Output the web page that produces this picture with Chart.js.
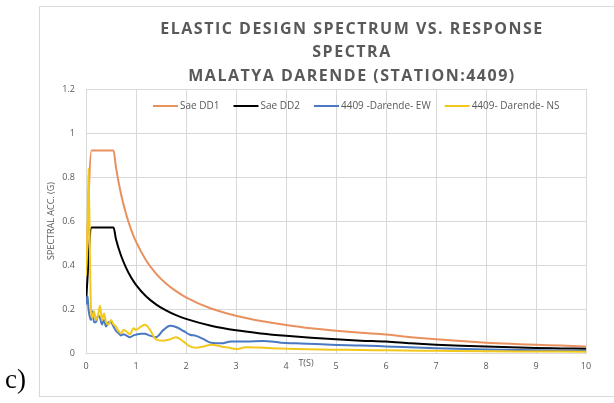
<!DOCTYPE html>
<html>
<head>
<meta charset="utf-8">
<script src="https://cdn.jsdelivr.net/npm/chart.js@4.4.1/dist/chart.umd.min.js"></script>
<style>
  html, body { margin: 0; padding: 0; background: #fff; overflow: hidden; }
  #wrap { position: relative; width: 614px; height: 403px; }
  #frame { position: absolute; left: 39px; top: 6px; width: 640px; height: 389px; border: 1px solid #d9d9d9; }
  #cv { position: absolute; left: 0; top: 0; }
  #tag { position: absolute; left: 5px; top: 366px; font-family: "Liberation Serif", serif; font-size: 27px; color: #000; line-height: 1; }
</style>
</head>
<body>
<div id="wrap">
  <div id="frame"></div>
  <canvas id="cv" width="614" height="403"></canvas>
  <div id="tag">c)</div>
</div>
<script>
// design spectra (TBDY 2018)
var periodsDesign = [0, 0.11, 0.2, 0.3, 0.4, 0.55, 0.6, 0.7, 0.8, 0.9, 1.0, 1.2, 1.4, 1.6, 1.8, 2.0, 2.5, 3, 3.5, 4, 4.5, 5, 5.5, 6, 6.5, 7, 7.5, 8, 8.5, 9, 9.5, 10];
var saeDD1 = [0.37, 0.92, 0.92, 0.92, 0.92, 0.92, 0.843, 0.723, 0.633, 0.562, 0.506, 0.422, 0.361, 0.316, 0.281, 0.253, 0.202, 0.169, 0.145, 0.127, 0.112, 0.101, 0.092, 0.084, 0.072, 0.062, 0.054, 0.047, 0.042, 0.037, 0.034, 0.029];
var saeDD2 = [0.23, 0.57, 0.57, 0.57, 0.57, 0.57, 0.517, 0.443, 0.388, 0.344, 0.31, 0.258, 0.221, 0.194, 0.172, 0.155, 0.124, 0.103, 0.089, 0.078, 0.069, 0.062, 0.056, 0.052, 0.044, 0.038, 0.033, 0.029, 0.026, 0.023, 0.021, 0.019];

// recorded response spectra, station 4409
var periodsRecord = [0, 0.03, 0.05, 0.08, 0.1, 0.13, 0.16, 0.2, 0.24, 0.28, 0.32, 0.36, 0.4, 0.45, 0.5, 0.55, 0.6, 0.65, 0.7, 0.75, 0.8, 0.88, 0.95, 1.0, 1.1, 1.18, 1.28, 1.4, 1.55, 1.68, 1.8, 1.95, 2.08, 2.2, 2.35, 2.5, 2.7, 2.9, 3.0, 3.2, 3.55, 3.9, 4.2, 4.9, 5.5, 6, 7, 8, 9, 10];
var ewValues = [0.22, 0.26, 0.2, 0.16, 0.15, 0.19, 0.14, 0.14, 0.17, 0.16, 0.13, 0.15, 0.12, 0.14, 0.14, 0.12, 0.1, 0.09, 0.08, 0.085, 0.08, 0.072, 0.08, 0.083, 0.088, 0.087, 0.079, 0.072, 0.105, 0.124, 0.118, 0.1, 0.083, 0.078, 0.063, 0.047, 0.044, 0.052, 0.052, 0.052, 0.055, 0.047, 0.044, 0.037, 0.034, 0.03, 0.022, 0.016, 0.012, 0.01];
var nsValues = [0.35, 0.55, 0.84, 0.42, 0.2, 0.16, 0.19, 0.15, 0.17, 0.215, 0.15, 0.18, 0.14, 0.13, 0.15, 0.13, 0.12, 0.1, 0.09, 0.105, 0.1, 0.085, 0.113, 0.105, 0.12, 0.128, 0.105, 0.062, 0.056, 0.062, 0.072, 0.052, 0.03, 0.024, 0.03, 0.037, 0.03, 0.022, 0.018, 0.026, 0.024, 0.02, 0.018, 0.015, 0.014, 0.012, 0.01, 0.008, 0.007, 0.006];

var seriesNames = ["Sae DD1", "Sae DD2", "4409 -Darende- EW", "4409- Darende- NS"];
var seriesColors = ["#e8915e", "#000000", "#4a78c2", "#f3c81c"];
var xTickValues = [0, 1, 2, 3, 4, 5, 6, 7, 8, 9, 10];
var yTickValues = [0, 0.2, 0.4, 0.6, 0.8, 1, 1.2];
var titleLines = ["ELASTIC DESIGN SPECTRUM VS. RESPONSE", "SPECTRA", "MALATYA DARENDE (STATION:4409)"];
var yTitle = "SPECTRAL ACC. (G)";
var xTitle = "T(S)";

var gray = "#595959";
var gridColor = "#d9d9d9";

function toPoints(xs, ys) {
  return xs.map(function (x, i) { return { x: x, y: ys[i] }; });
}

// title, legend and the T(S) label are placed the way Excel had them
var overlay = {
  id: "overlay",
  afterDraw: function (chart) {
    var ctx = chart.ctx;
    var area = chart.chartArea;
    ctx.save();
    ctx.fillStyle = gray;
    ctx.textBaseline = "middle";

    ctx.textAlign = "center";
    ctx.font = 'bold 16px "Open Sans"';
    ctx.letterSpacing = "1.5px";
    titleLines.forEach(function (t, i) {
      ctx.fillText(t, 352, 29 + i * 23.5);
    });
    ctx.letterSpacing = "0px";

    ctx.textAlign = "left";
    ctx.font = '10px "Open Sans"';
    var lx = area.left + 67;
    var ly = area.top + 17;
    chart.data.datasets.forEach(function (ds) {
      ctx.strokeStyle = ds.borderColor;
      ctx.lineWidth = 2;
      ctx.beginPath();
      ctx.moveTo(lx, ly);
      ctx.lineTo(lx + 25, ly);
      ctx.stroke();
      ctx.fillText(ds.label, lx + 27, ly);
      lx += 27 + ctx.measureText(ds.label).width + 14;
    });

    ctx.textAlign = "center";
    ctx.font = '9px "Open Sans"';
    ctx.fillText(xTitle, chart.scales.x.getPixelForValue(4.4), area.bottom + 10);
    ctx.restore();
  }
};

var values = [
  toPoints(periodsDesign, saeDD1),
  toPoints(periodsDesign, saeDD2),
  toPoints(periodsRecord, ewValues),
  toPoints(periodsRecord, nsValues)
];

new Chart(document.getElementById("cv"), {
  type: "line",
  data: {
    datasets: values.map(function (pts, i) {
      return {
        label: seriesNames[i],
        data: pts,
        borderColor: seriesColors[i],
        backgroundColor: seriesColors[i],
        borderWidth: 2,
        pointRadius: 0,
        fill: false,
        cubicInterpolationMode: "monotone",
        order: 4 - i
      };
    })
  },
  options: {
    responsive: false,
    animation: false,
    layout: { padding: { left: 40, top: 89, right: 28, bottom: 0 } },
    plugins: {
      legend: { display: false },
      tooltip: { enabled: false },
      title: { display: false }
    },
    scales: {
      x: {
        type: "linear",
        min: 0,
        max: 10,
        afterBuildTicks: function (s) { s.ticks = xTickValues.map(function (v) { return { value: v }; }); },
        afterFit: function (s) { s.height = 50; },
        ticks: { color: gray, font: { family: "Open Sans", size: 9 }, padding: 8, maxRotation: 0 },
        grid: { color: gridColor, drawTicks: false },
        border: { color: gridColor }
      },
      y: {
        min: 0,
        max: 1.2,
        afterBuildTicks: function (s) { s.ticks = yTickValues.map(function (v) { return { value: v }; }); },
        afterFit: function (s) { s.width = 46; },
        ticks: {
          color: gray,
          font: { family: "Open Sans", size: 9 },
          padding: 11,
          callback: function (v) { return String(Number(v.toFixed(1))); }
        },
        grid: { color: gridColor, drawTicks: false },
        border: { color: gridColor },
        title: {
          display: true,
          text: yTitle,
          color: gray,
          font: { family: "Open Sans", size: 9 },
          padding: { top: 6, bottom: 0 }
        }
      }
    }
  },
  plugins: [overlay]
});
</script>
</body>
</html>
